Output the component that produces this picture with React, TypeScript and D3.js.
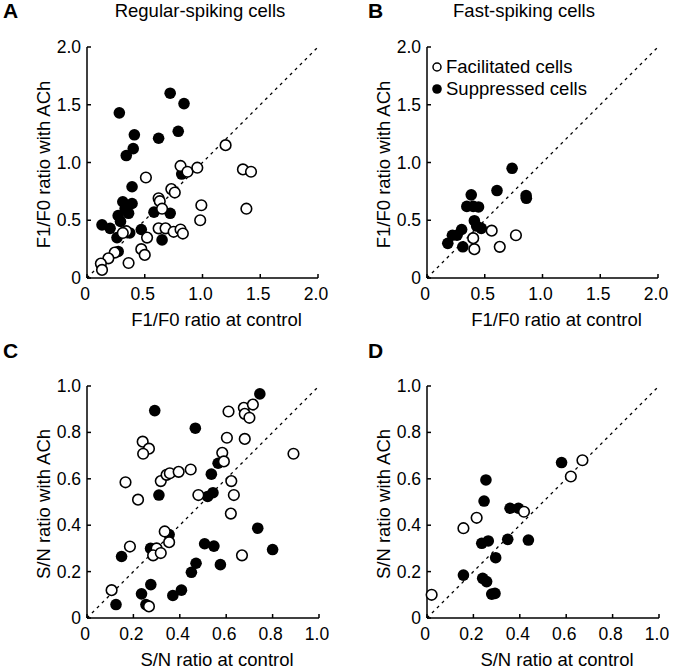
import React from "react";
import * as d3 from "d3";

type Pt = [number, number];

// F1/F0, regular-spiking
const rsF1Suppressed: Pt[] = [
  [0.28, 1.43], [0.72, 1.6], [0.84, 1.51], [0.41, 1.24], [0.62, 1.21], [0.79, 1.27],
  [0.4, 1.12], [0.34, 1.06], [0.82, 0.9], [0.39, 0.79], [0.31, 0.66], [0.39, 0.645],
  [0.27, 0.54], [0.36, 0.56], [0.33, 0.6], [0.58, 0.57], [0.72, 0.56], [0.13, 0.46],
  [0.2, 0.43], [0.26, 0.35], [0.37, 0.39], [0.47, 0.42], [0.65, 0.33], [0.27, 0.23],
  [0.29, 0.49],
];
const rsF1Facilitated: Pt[] = [
  [0.51, 0.87], [0.81, 0.97], [0.87, 0.92], [0.955, 0.955], [0.73, 0.77], [0.76, 0.74],
  [0.62, 0.69], [1.2, 1.15], [1.35, 0.94], [1.42, 0.92], [0.99, 0.63], [0.98, 0.5],
  [1.38, 0.6], [0.63, 0.665], [0.65, 0.6], [0.34, 0.405], [0.31, 0.39], [0.52, 0.35],
  [0.62, 0.43], [0.68, 0.43], [0.75, 0.4], [0.81, 0.42], [0.83, 0.385], [0.47, 0.25],
  [0.5, 0.2], [0.24, 0.22], [0.185, 0.17], [0.12, 0.125], [0.13, 0.07], [0.36, 0.13],
];

// F1/F0, fast-spiking
const fsF1Suppressed: Pt[] = [
  [0.737, 0.95], [0.606, 0.757], [0.858, 0.713], [0.86, 0.69], [0.383, 0.72], [0.345, 0.62],
  [0.4, 0.62], [0.446, 0.615], [0.41, 0.496], [0.43, 0.45], [0.47, 0.43], [0.3, 0.42],
  [0.26, 0.37], [0.22, 0.37], [0.18, 0.3], [0.31, 0.27],
];
const fsF1Facilitated: Pt[] = [
  [0.56, 0.41], [0.4, 0.345], [0.41, 0.25], [0.63, 0.27], [0.77, 0.37],
];

// S/N, regular-spiking
const rsSnSuppressed: Pt[] = [
  [0.292, 0.894], [0.467, 0.818], [0.31, 0.53], [0.149, 0.265], [0.274, 0.3], [0.354, 0.36],
  [0.507, 0.32], [0.47, 0.236], [0.45, 0.197], [0.407, 0.12], [0.37, 0.097], [0.275, 0.144],
  [0.235, 0.104], [0.254, 0.058], [0.125, 0.058], [0.745, 0.966], [0.565, 0.667], [0.536, 0.62],
  [0.543, 0.54], [0.52, 0.524], [0.736, 0.387], [0.547, 0.31], [0.8, 0.295], [0.575, 0.23],
];
const rsSnFacilitated: Pt[] = [
  [0.24, 0.76], [0.267, 0.73], [0.242, 0.708], [0.166, 0.585], [0.22, 0.51], [0.318, 0.59],
  [0.343, 0.617], [0.357, 0.624], [0.395, 0.63], [0.447, 0.64], [0.48, 0.53], [0.185, 0.308],
  [0.3, 0.3], [0.285, 0.27], [0.318, 0.28], [0.335, 0.373], [0.354, 0.327], [0.106, 0.12],
  [0.267, 0.05], [0.61, 0.89], [0.676, 0.906], [0.715, 0.92], [0.68, 0.88], [0.7, 0.863],
  [0.603, 0.777], [0.68, 0.772], [0.89, 0.708], [0.583, 0.712], [0.59, 0.675], [0.622, 0.59],
  [0.633, 0.53], [0.62, 0.45], [0.668, 0.27],
];

// S/N, fast-spiking
const fsSnSuppressed: Pt[] = [
  [0.254, 0.595], [0.246, 0.504], [0.358, 0.473], [0.394, 0.473], [0.236, 0.322], [0.264, 0.332],
  [0.348, 0.339], [0.437, 0.336], [0.296, 0.26], [0.157, 0.185], [0.24, 0.171], [0.257, 0.157],
  [0.279, 0.103], [0.293, 0.106], [0.58, 0.67],
];
const fsSnFacilitated: Pt[] = [
  [0.157, 0.387], [0.214, 0.432], [0.418, 0.458], [0.02, 0.1], [0.62, 0.61], [0.67, 0.68],
];

const f1Ticks = [0, 0.5, 1.0, 1.5, 2.0];
const snTicks = [0, 0.2, 0.4, 0.6, 0.8, 1.0];

const FONT = "Liberation Sans, Arial, Helvetica, sans-serif";

type PanelProps = {
  left: number;
  top: number;
  size: number;
  max: number;
  ticks: number[];
  xTitle: string;
  yTitle: string;
  filled: Pt[];
  open: Pt[];
  legend?: boolean;
};

function Panel({ left, top, size, max, ticks, xTitle, yTitle, filled, open, legend }: PanelProps) {
  const x = d3.scaleLinear().domain([0, max]).range([left, left + size]);
  const y = d3.scaleLinear().domain([0, max]).range([top + size, top]);
  const bottom = top + size;
  const fmt = (v: number) => (v === 0 ? "0" : d3.format(".1f")(v));
  return (
    <g fontFamily={FONT}>
      <line x1={x(0)} y1={y(0)} x2={x(max)} y2={y(max)} stroke="#000" strokeWidth={1.3} strokeDasharray="3,4" />
      <line x1={left} y1={bottom} x2={left + size} y2={bottom} stroke="#000" strokeWidth={1.5} />
      <line x1={left} y1={bottom} x2={left} y2={top} stroke="#000" strokeWidth={1.5} />
      {ticks.map((t) => (
        <g key={"x" + t}>
          <line x1={x(t)} x2={x(t)} y1={bottom} y2={bottom - 4} stroke="#000" strokeWidth={1.5} />
          <text x={x(t) - 2} y={bottom + 22} fontSize={17.5} textAnchor="middle">{fmt(t)}</text>
        </g>
      ))}
      {ticks.map((t) => (
        <g key={"y" + t}>
          <line x1={left} x2={left + 4} y1={y(t)} y2={y(t)} stroke="#000" strokeWidth={1.5} />
          <text x={left - 6} y={y(t) + 6} fontSize={17.5} textAnchor="end">{fmt(t)}</text>
        </g>
      ))}
      <text x={left + size / 2 + 14} y={bottom + 48} fontSize={18.5} textAnchor="middle">{xTitle}</text>
      <text
        transform={`translate(${left - 37},${top + size / 2 + 2}) rotate(-90)`}
        fontSize={18.5}
        textAnchor="middle"
      >
        {yTitle}
      </text>
      {filled.map((d, i) => (
        <circle key={"f" + i} cx={x(d[0])} cy={y(d[1])} r={5.8} fill="#000" />
      ))}
      {open.map((d, i) => (
        <circle key={"o" + i} cx={x(d[0])} cy={y(d[1])} r={5.3} fill="#fff" stroke="#000" strokeWidth={1.6} />
      ))}
      {legend && (
        <g fontSize={18.5}>
          <circle cx={left + 10} cy={top + 20} r={4} fill="#fff" stroke="#000" strokeWidth={1.5} />
          <text x={left + 19} y={top + 26}>Facilitated cells</text>
          <circle cx={left + 10} cy={top + 42} r={4.8} fill="#000" />
          <text x={left + 19} y={top + 48}>Suppressed cells</text>
        </g>
      )}
    </g>
  );
}

export default function App() {
  return (
    <div style={{ position: "absolute", left: 0, top: 0 }}>
      <svg width={675} height={670} style={{ display: "block", background: "#fff" }}>
        <g fontFamily={FONT}>
          <text x={3} y={18} fontSize={21} fontWeight="bold">A</text>
          <text x={368} y={18} fontSize={21} fontWeight="bold">B</text>
          <text x={3} y={358} fontSize={21} fontWeight="bold">C</text>
          <text x={368} y={358} fontSize={21} fontWeight="bold">D</text>
          <text x={200} y={17} fontSize={18.5} textAnchor="middle">Regular-spiking cells</text>
          <text x={524} y={17} fontSize={18.5} textAnchor="middle">Fast-spiking cells</text>
        </g>
        <Panel left={87} top={47} size={231} max={2} ticks={f1Ticks}
          xTitle="F1/F0 ratio at control" yTitle="F1/F0 ratio with ACh"
          filled={rsF1Suppressed} open={rsF1Facilitated} />
        <Panel left={427} top={47} size={231} max={2} ticks={f1Ticks}
          xTitle="F1/F0 ratio at control" yTitle="F1/F0 ratio with ACh"
          filled={fsF1Suppressed} open={fsF1Facilitated} legend />
        <Panel left={87} top={386} size={232} max={1} ticks={snTicks}
          xTitle="S/N ratio at control" yTitle="S/N ratio with ACh"
          filled={rsSnSuppressed} open={rsSnFacilitated} />
        <Panel left={427} top={386} size={232} max={1} ticks={snTicks}
          xTitle="S/N ratio at control" yTitle="S/N ratio with ACh"
          filled={fsSnSuppressed} open={fsSnFacilitated} />
      </svg>
    </div>
  );
}
